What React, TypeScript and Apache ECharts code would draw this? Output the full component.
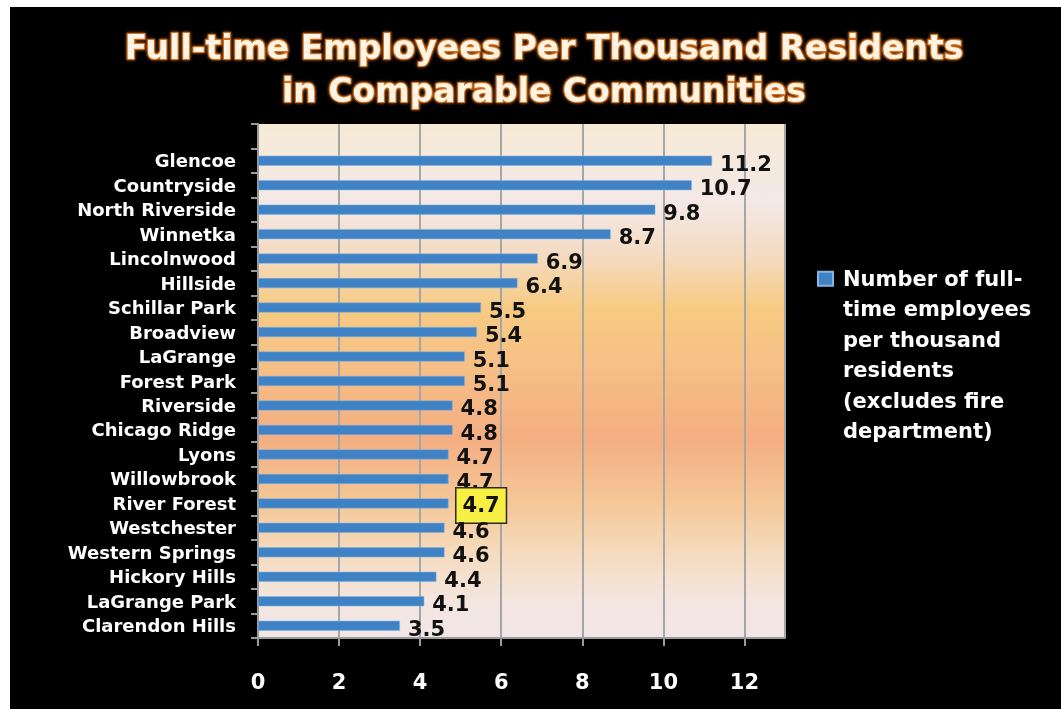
import React, { useEffect, useRef } from 'react';
import * as echarts from 'echarts';

const titleLines = ['Full-time Employees Per Thousand Residents', 'in Comparable Communities'];
const categories = [
  'Glencoe', 'Countryside', 'North Riverside', 'Winnetka', 'Lincolnwood', 'Hillside',
  'Schillar Park', 'Broadview', 'LaGrange', 'Forest Park', 'Riverside', 'Chicago Ridge',
  'Lyons', 'Willowbrook', 'River Forest', 'Westchester', 'Western Springs', 'Hickory Hills',
  'LaGrange Park', 'Clarendon Hills',
];
const values = [11.2, 10.7, 9.8, 8.7, 6.9, 6.4, 5.5, 5.4, 5.1, 5.1, 4.8, 4.8, 4.7, 4.7, 4.7, 4.6, 4.6, 4.4, 4.1, 3.5];
const highlighted = 'River Forest';
const seriesLines = ['Number of full-', 'time employees', 'per thousand', 'residents', '(excludes fire', 'department)'];
const xMin = 0;
const xMax = 13;
const xInterval = 2;

export default function App() {
  const ref = useRef<HTMLDivElement>(null);
  useEffect(() => {
    if (!ref.current) return;
    const chart = echarts.init(ref.current, null, { renderer: 'svg' });
    const seriesName = seriesLines.join('\n');
    const cats = ['', ...categories];
    const data: any[] = [null, ...values.map((v, i) =>
      categories[i] === highlighted
        ? {
            value: v,
            label: {
              backgroundColor: '#f8ef45',
              borderColor: '#2a2a2a',
              borderWidth: 1.5,
              padding: [8, 6, 5, 6],
              offset: [0, 2],
            },
          }
        : v
    )];
    chart.setOption({
      animation: false,
      backgroundColor: 'transparent',
      graphic: [
        { type: 'rect', z: -10, silent: true, shape: { x: 10, y: 7, width: 1051, height: 702 }, style: { fill: '#000' } },
      ],
      title: {
        text: titleLines.join('\n'),
        left: 544,
        top: 26,
        padding: 0,
        textAlign: 'center',
        textStyle: {
          fontFamily: 'DejaVu Sans',
          fontWeight: 'bold',
          fontSize: 33,
          lineHeight: 43,
          color: '#fff4e4',
          textBorderColor: '#d2701c',
          textBorderWidth: 2,
          textShadowColor: '#e07a2a',
          textShadowBlur: 3,
        },
      },
      legend: {
        left: 817,
        top: 111,
        padding: 0,
        icon: 'rect',
        itemWidth: 15,
        itemHeight: 14,
        selectedMode: false,
        data: [seriesName],
        formatter: (name: string) => '\n\n\n\n\n' + name,
        textStyle: {
          color: '#ffffff',
          fontFamily: 'DejaVu Sans',
          fontWeight: 'bold',
          fontSize: 21,
          lineHeight: 30.5,
          padding: [0, 0, 0, 5],
        },
      },
      grid: {
        left: 258,
        top: 124,
        width: 527,
        height: 514,
        show: true,
        borderWidth: 0,
        backgroundColor: new echarts.graphic.LinearGradient(0, 0, 0, 1, [
          { offset: 0, color: '#f6ead6' },
          { offset: 0.15, color: '#f4e9e6' },
          { offset: 0.25, color: '#f4dcc4' },
          { offset: 0.36, color: '#f7ca82' },
          { offset: 0.45, color: '#f6c286' },
          { offset: 0.61, color: '#f4ae82' },
          { offset: 0.74, color: '#f5c898' },
          { offset: 0.84, color: '#f5dcc0' },
          { offset: 0.93, color: '#f3e6e0' },
          { offset: 1, color: '#f2e6e6' },
        ]),
      },
      xAxis: {
        type: 'value',
        min: xMin,
        max: xMax,
        interval: xInterval,
        axisLine: { show: true, lineStyle: { color: '#9a9a9a', width: 2 } },
        axisTick: { show: true, length: 8, lineStyle: { color: '#9a9a9a', width: 2 } },
        splitLine: { show: true, lineStyle: { color: '#a6a6a6', width: 2 } },
        axisLabel: {
          showMaxLabel: false,
          margin: 33,
          color: '#ffffff',
          fontFamily: 'DejaVu Sans',
          fontWeight: 'bold',
          fontSize: 21,
        },
      },
      yAxis: {
        type: 'category',
        inverse: true,
        data: cats,
        axisLine: { show: true, lineStyle: { color: '#9a9a9a', width: 2 } },
        axisTick: { show: true, length: 7, lineStyle: { color: '#9a9a9a', width: 2 } },
        splitLine: { show: false },
        axisLabel: {
          margin: 22,
          color: '#ffffff',
          fontFamily: 'DejaVu Sans',
          fontWeight: 'bold',
          fontSize: 18,
          interval: 0,
        },
      },
      series: [
        {
          name: seriesName,
          type: 'bar',
          data,
          barWidth: 10,
          itemStyle: { color: '#3f82c6', borderColor: '#86b4e0', borderWidth: 0.5 },
          label: {
            show: true,
            position: 'right',
            distance: 8,
            offset: [0, 3],
            color: '#111111',
            fontFamily: 'DejaVu Sans',
            fontWeight: 'bold',
            fontSize: 21,
          },
        },
      ],
    });
    return () => chart.dispose();
  }, []);
  return <div ref={ref} style={{ position: 'fixed', left: 0, top: 0, width: 1061, height: 709 }} />;
}
